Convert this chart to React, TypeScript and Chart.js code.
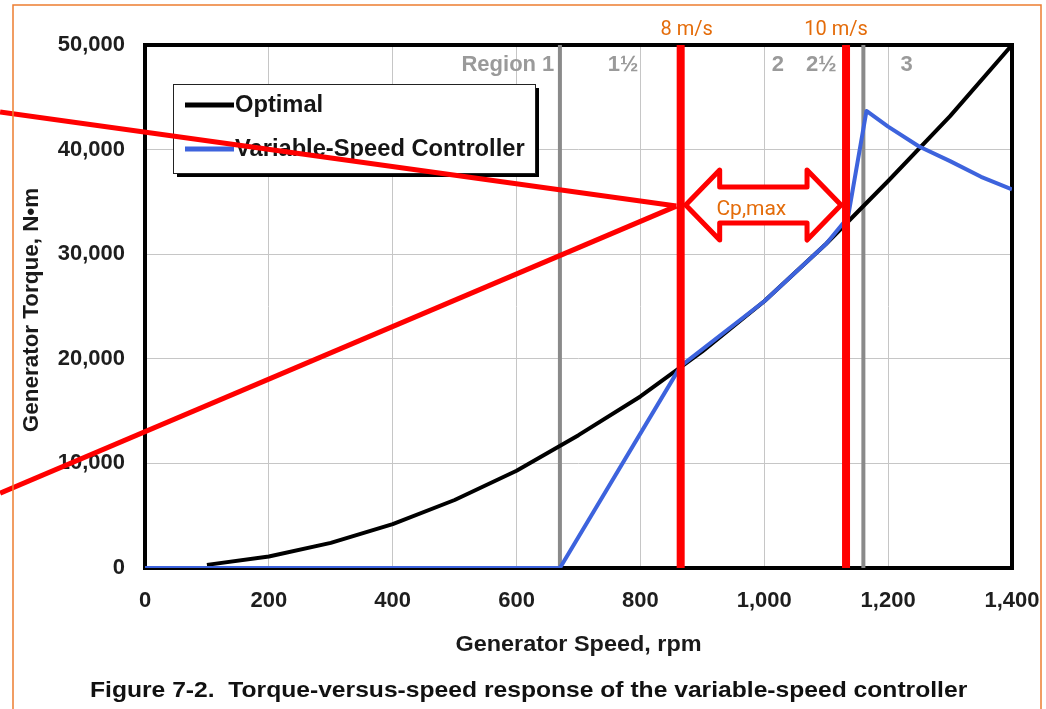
import { useEffect, useRef } from "react";
import { Chart, registerables } from "chart.js";

Chart.register(...registerables);

// Axis ticks
const speedTicks = [0, 200, 400, 600, 800, 1000, 1200, 1400];
const torqueTicks = [0, 10000, 20000, 30000, 40000, 50000];

// Optimal torque curve (rpm -> N·m)
const optimalSpeed = [100, 200, 300, 400, 500, 600, 700, 800, 900, 1000, 1100, 1200, 1300, 1400];
const optimalTorque = [300, 1100, 2400, 4200, 6500, 9300, 12700, 16400, 20700, 25500, 31000, 37000, 43200, 50000];

// Variable-speed controller response (rpm -> N·m)
const controllerSpeed = [0, 670, 865, 1000, 1100, 1135, 1165, 1200, 1250, 1300, 1350, 1400];
const controllerTorque = [0, 0, 19300, 25500, 31000, 33500, 43700, 42200, 40300, 38900, 37400, 36200];

// Control regions
const regionBoundarySpeed = [670, 1160];
const regionNames = ["Region 1", "1½", "2", "2½", "3"];
const regionNameSpeed = [586, 772, 1022, 1092, 1230];

// Wind speed markers
const windSpeedNames = ["8 m/s", "10 m/s"];
const windSpeedRpm = [865, 1132];

// Callout lines converging on the Cp,max band
const calloutTip = { speed: 858, torque: 34600 };
const calloutTailSpeed = -234;
const calloutTailTorque = [43600, 7150];
const cpMaxTorque = 34700;

const TORQUE_MAX = 50000;
const SPEED_MAX = 1400;

const SANS = '"Liberation Sans", Arial, Helvetica, sans-serif';
const NARROW = 'Roboto, "Liberation Sans", Arial, sans-serif';
const ORANGE = "#E46C0A";

const fmt = (v: number) => Number(v).toLocaleString("en-US");
const toPoints = (xs: number[], ys: number[]) => xs.map((x, i) => ({ x, y: ys[i] }));

// Draws text stretched horizontally by `sx` (wide bold figure lettering)
const wideText = (ctx: any, text: string, x: number, y: number, sx: number) => {
  ctx.save();
  ctx.translate(x, y);
  ctx.scale(sx, 1);
  ctx.fillText(text, 0, 0);
  ctx.restore();
};

const overlay = {
  id: "overlay",
  beforeDatasetsDraw(chart: any) {
    const { ctx, chartArea: a, scales } = chart;
    const x = scales.x;
    ctx.save();
    // plot frame
    ctx.strokeStyle = "#000";
    ctx.lineWidth = 4;
    ctx.strokeRect(a.left, a.top, a.right - a.left, a.bottom - a.top);

    // region names
    ctx.fillStyle = "#9a9a9a";
    ctx.font = `bold 22px ${SANS}`;
    ctx.textAlign = "center";
    ctx.textBaseline = "middle";
    regionNames.forEach((n, i) => {
      ctx.fillText(n, x.getPixelForValue(regionNameSpeed[i]), a.top + 20);
    });

    // legend with drop shadow
    const lx = 173, ly = 84, lw = 362, lh = 89;
    ctx.fillStyle = "#000";
    ctx.fillRect(lx + 4, ly + 4, lw, lh);
    ctx.fillStyle = "#fff";
    ctx.fillRect(lx, ly, lw, lh);
    ctx.strokeStyle = "#222";
    ctx.lineWidth = 1;
    ctx.strokeRect(lx + 0.5, ly + 0.5, lw, lh);
    const items = [
      { name: "Optimal", color: "#000", y: ly + 21 },
      { name: "Variable-Speed Controller", color: "#3d63dd", y: ly + 65 },
    ];
    items.forEach((it) => {
      ctx.strokeStyle = it.color;
      ctx.lineWidth = 5;
      ctx.beginPath();
      ctx.moveTo(lx + 12, it.y);
      ctx.lineTo(lx + 61, it.y);
      ctx.stroke();
      ctx.fillStyle = "#151515";
      ctx.font = `bold 23px ${SANS}`;
      ctx.textAlign = "left";
      ctx.textBaseline = "middle";
      wideText(ctx, it.name, lx + 62, it.y + 1, 1.03);
    });
    ctx.restore();
  },
  afterDatasetsDraw(chart: any) {
    const { ctx, scales } = chart;
    const x = scales.x, y = scales.y;
    ctx.save();
    // double-headed hollow arrow between the two wind-speed lines
    const xL = x.getPixelForValue(windSpeedRpm[0]) + 5;
    const xR = x.getPixelForValue(windSpeedRpm[1]) - 5;
    const cy = y.getPixelForValue(cpMaxTorque);
    const hl = 34, hh = 35, sh = 18;
    ctx.beginPath();
    ctx.moveTo(xL, cy);
    ctx.lineTo(xL + hl, cy - hh);
    ctx.lineTo(xL + hl, cy - sh);
    ctx.lineTo(xR - hl, cy - sh);
    ctx.lineTo(xR - hl, cy - hh);
    ctx.lineTo(xR, cy);
    ctx.lineTo(xR - hl, cy + hh);
    ctx.lineTo(xR - hl, cy + sh);
    ctx.lineTo(xL + hl, cy + sh);
    ctx.lineTo(xL + hl, cy + hh);
    ctx.closePath();
    ctx.fillStyle = "#fff";
    ctx.fill();
    ctx.strokeStyle = "#ff0000";
    ctx.lineWidth = 5;
    ctx.lineJoin = "round";
    ctx.stroke();

    ctx.fillStyle = ORANGE;
    ctx.font = `21px ${NARROW}`;
    ctx.textAlign = "center";
    ctx.textBaseline = "middle";
    ctx.fillText("Cp,max", (xL + xR) / 2 - 12, cy + 5);

    // wind-speed captions
    ctx.font = `20px ${NARROW}`;
    ctx.fillText(windSpeedNames[0], x.getPixelForValue(windSpeedRpm[0]) + 6, 30);
    ctx.fillText(windSpeedNames[1], x.getPixelForValue(windSpeedRpm[1]) - 10, 30);
    ctx.restore();
  },
  afterDraw(chart: any) {
    const { ctx, chartArea: a } = chart;
    ctx.save();
    ctx.fillStyle = "#1a1a1a";
    ctx.font = `bold 22px ${SANS}`;
    ctx.textAlign = "center";
    ctx.textBaseline = "middle";
    wideText(ctx, "Generator Speed, rpm", (a.left + a.right) / 2, 645, 1.065);

    ctx.save();
    ctx.translate(32, 310);
    ctx.rotate(-Math.PI / 2);
    wideText(ctx, "Generator Torque, N•m", 0, 0, 1.02);
    ctx.restore();

    ctx.fillStyle = "#111";
    ctx.textAlign = "left";
    wideText(ctx, "Figure 7-2.  Torque-versus-speed response of the variable-speed controller", 90, 691, 1.12);

    // slide frame
    ctx.strokeStyle = "#ED7D31";
    ctx.lineWidth = 1.5;
    ctx.strokeRect(13, 5, 1028, 800);
    ctx.restore();
  },
};

export default function App() {
  const ref = useRef<HTMLCanvasElement>(null);

  useEffect(() => {
    const canvas = ref.current;
    if (!canvas) return;

    const line = (data: any[], color: string, width: number, order: number, extra: any = {}) => ({
      data,
      borderColor: color,
      backgroundColor: color,
      borderWidth: width,
      pointRadius: 0,
      fill: false,
      tension: 0,
      order,
      ...extra,
    });

    const datasets: any[] = [
      ...calloutTailTorque.map((t) =>
        line(
          [
            { x: calloutTailSpeed, y: t },
            { x: calloutTip.speed, y: calloutTip.torque },
          ],
          "#ff0000",
          5,
          0,
          { clip: false, label: "callout" }
        )
      ),
      ...windSpeedRpm.map((s, i) =>
        line(
          [
            { x: s, y: 0 },
            { x: s, y: TORQUE_MAX },
          ],
          "#ff0000",
          8,
          1,
          { label: windSpeedNames[i] }
        )
      ),
      line(toPoints(controllerSpeed, controllerTorque), "#3d63dd", 4, 2, { label: "Variable-Speed Controller" }),
      line(toPoints(optimalSpeed, optimalTorque), "#000", 4, 3, { label: "Optimal" }),
      ...regionBoundarySpeed.map((s) =>
        line(
          [
            { x: s, y: 0 },
            { x: s, y: TORQUE_MAX },
          ],
          "#8a8a8a",
          4,
          4,
          { label: "region" }
        )
      ),
    ];

    const tickFont = { family: SANS, size: 22, weight: "bold" as const };

    const chart = new Chart(canvas, {
      type: "line",
      data: { datasets },
      options: {
        responsive: false,
        animation: false,
        devicePixelRatio: 1,
        layout: { padding: { top: 45, right: 34, left: 0, bottom: 0 } },
        plugins: {
          legend: { display: false },
          tooltip: { enabled: false },
        },
        elements: { line: { borderCapStyle: "butt", borderJoinStyle: "round" } },
        scales: {
          x: {
            type: "linear",
            min: 0,
            max: SPEED_MAX,
            afterBuildTicks: (s: any) => {
              s.ticks = speedTicks.map((v) => ({ value: v }));
            },
            afterFit: (s: any) => {
              s.height = 709 - 568;
              s.paddingLeft = 0;
              s.paddingRight = 0;
            },
            ticks: {
              padding: 20,
              font: tickFont,
              color: "#1e1e1e",
              maxRotation: 0,
              autoSkip: false,
              callback: (v: any) => fmt(v),
            },
            grid: { color: "#c6c6c6", lineWidth: 1, drawTicks: false },
            border: { display: false },
          },
          y: {
            type: "linear",
            min: 0,
            max: TORQUE_MAX,
            afterBuildTicks: (s: any) => {
              s.ticks = torqueTicks.map((v) => ({ value: v }));
            },
            afterFit: (s: any) => {
              s.width = 145;
              s.paddingTop = 0;
              s.paddingBottom = 0;
            },
            ticks: {
              padding: 20,
              font: tickFont,
              color: "#1e1e1e",
              autoSkip: false,
              callback: (v: any) => fmt(v),
            },
            grid: { color: "#c6c6c6", lineWidth: 1, drawTicks: false },
            border: { display: false },
          },
        },
      } as any,
      plugins: [overlay],
    });

    return () => chart.destroy();
  }, []);

  return (
    <div style={{ position: "absolute", left: 0, top: 0, width: 1046, height: 709, background: "#fff" }}>
      <canvas ref={ref} width={1046} height={709} style={{ display: "block" }} />
    </div>
  );
}
